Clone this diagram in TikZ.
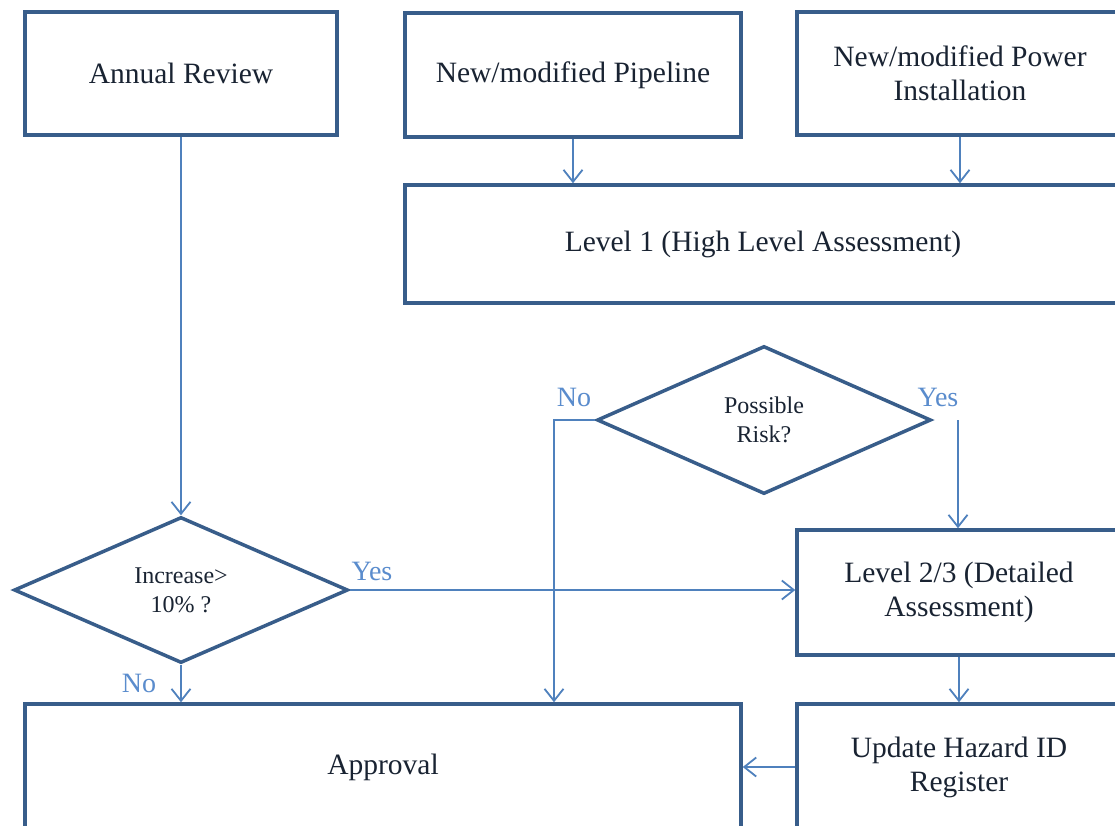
\documentclass[tikz,border=0pt]{standalone}
\usepackage{fontspec}
\setmainfont{Liberation Serif}
\usetikzlibrary{shapes.geometric,arrows.meta}
\definecolor{bordercol}{RGB}{56,93,138}
\definecolor{arrowcol}{RGB}{79,129,189}
\definecolor{labelcol}{RGB}{90,140,205}
\definecolor{textcol}{RGB}{25,35,50}
\tikzset{
  box/.style={draw=bordercol, line width=3.5pt, rectangle, align=center,
    font=\fontsize{29.5}{34}\selectfont, text=textcol, inner sep=0pt},
  decision/.style={draw=bordercol, line width=3.5pt, diamond, align=center,
    font=\fontsize{24}{29}\selectfont, text=textcol, inner sep=0pt},
  conn/.style={draw=arrowcol, line width=1.8pt},
  arr/.style={conn, -{Straight Barb[length=12pt,width=19pt,line width=1.8pt]}},
  lbl/.style={text=labelcol, font=\fontsize{28}{30}\selectfont, inner sep=0pt}
}
\begin{document}
\begin{tikzpicture}[x=1pt,y=-1pt]
\useasboundingbox (0,0) rectangle (1115,825);
\clip (0,0) rectangle (1115,825);
\fill[white] (0,0) rectangle (1115,825);
% boxes
\node[box, minimum width=312pt, minimum height=123pt] (annual) at (181,73.5) {Annual Review};
\node[box, minimum width=336pt, minimum height=124pt] (pipe) at (573,75) {New/modified Pipeline};
\node[box, minimum width=326pt, minimum height=123pt] (power) at (960,73.5) {New/modified Power\\Installation};
\node[box, minimum width=716pt, minimum height=118pt] (l1) at (763,244) {Level 1 (High Level Assessment)};
\node[box, minimum width=324pt, minimum height=125pt] (l23) at (959,592.5) {Level 2/3 (Detailed\\Assessment)};
\node[box, minimum width=324pt, minimum height=126pt] (update) at (959,767) {Update Hazard ID\\Register};
\node[box, minimum width=716pt, minimum height=126pt] (approval) at (383,767) {Approval};
% decisions
\node[decision, minimum width=334pt, minimum height=146pt] (inc) at (181,590) {Increase>\\10\% ?};
\node[decision, minimum width=334pt, minimum height=148pt] (risk) at (764,420) {Possible\\Risk?};
% connectors
\draw[arr] (annual.south) -- (inc.north);
\draw[arr] (pipe.south) -- (pipe.south |- l1.north);
\draw[arr] (power.south) -- (power.south |- l1.north);
\draw[arr] (inc.south) -- (inc.south |- approval.north);
\draw[arr] (inc.east) -- (inc.east -| l23.west);
\coordinate (noturn) at (554,420);
\draw[arr] (risk.west) -- (noturn) -- (noturn |- approval.north);
\coordinate (yesstart) at (958,420);
\draw[arr] (yesstart) -- (yesstart |- l23.north);
\draw[arr] (l23.south) -- (update.north);
\draw[arr] (update.west) -- (approval.east |- update.west);
% labels
\node[lbl] (yes1) at (372,571) {Yes};
\node[lbl] (no1) at (139,683) {No};
\node[lbl] (no2) at (574,397) {No};
\node[lbl] (yes2) at (938,397) {Yes};
\end{tikzpicture}
\end{document}
